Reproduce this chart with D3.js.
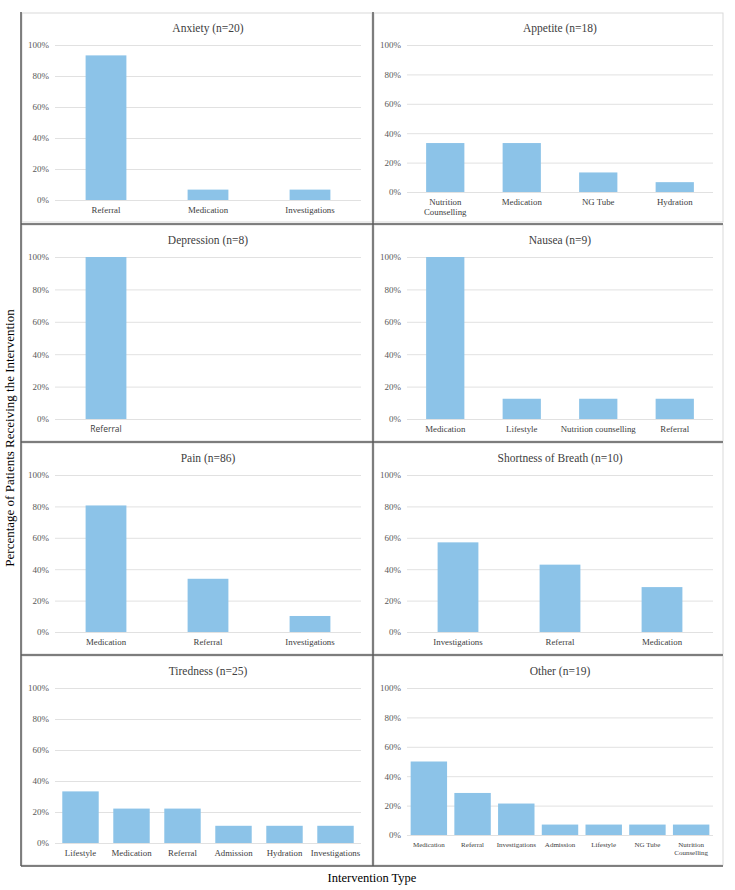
<!DOCTYPE html>
<html>
<head>
<meta charset="utf-8">
<script src="https://cdn.jsdelivr.net/npm/d3@7"></script>
<style>
  body { margin: 0; background: #fff; }
  text { font-family: "Liberation Serif", "Times New Roman", serif; }
</style>
</head>
<body>
<div id="chart"></div>
<script>
// panel titles, in reading order (left-right, top-bottom)
var titles = ["Anxiety (n=20)", "Appetite (n=18)", "Depression (n=8)", "Nausea (n=9)",
              "Pain (n=86)", "Shortness of Breath (n=10)", "Tiredness (n=25)", "Other (n=19)"];

var anxietyCats = ["Referral", "Medication", "Investigations"];
var anxietyVals = [93.3, 6.7, 6.7];
var appetiteCats = ["Nutrition\nCounselling", "Medication", "NG Tube", "Hydration"];
var appetiteVals = [33.3, 33.3, 13.3, 6.7];
var depressionCats = ["Referral"];
var depressionVals = [100];
var nauseaCats = ["Medication", "Lifestyle", "Nutrition counselling", "Referral"];
var nauseaVals = [100, 12.5, 12.5, 12.5];
var painCats = ["Medication", "Referral", "Investigations"];
var painVals = [80.6, 33.9, 10.2];
var breathCats = ["Investigations", "Referral", "Medication"];
var breathVals = [57.1, 42.9, 28.6];
var tirednessCats = ["Lifestyle", "Medication", "Referral", "Admission", "Hydration", "Investigations"];
var tirednessVals = [33.3, 22.2, 22.2, 11.1, 11.1, 11.1];
var otherCats = ["Medication", "Referral", "Investigations", "Admission", "Lifestyle", "NG Tube", "Nutrition\nCounselling"];
var otherVals = [50, 28.6, 21.4, 7.1, 7.1, 7.1, 7.1];

var yTicks = [0, 20, 40, 60, 80, 100];

var allCats = [anxietyCats, appetiteCats, depressionCats, nauseaCats, painCats, breathCats, tirednessCats, otherCats];
var allVals = [anxietyVals, appetiteVals, depressionVals, nauseaVals, painVals, breathVals, tirednessVals, otherVals];

// excel-ish gap width per panel, label size, min slots
var gapWidths = [1.5, 1.0, 1.5, 1.0, 1.5, 1.5, 0.4, 0.2];
var labelSizes = [8.8, 8.8, 8.5, 8.8, 8.8, 8.8, 8.8, 7];
var minSlots = [3, 4, 3, 4, 3, 3, 6, 7];

var width = 735, height = 890;
var colX = [22, 374], colW = [350, 349];
var rowY = [13, 225, 443, 656], rowH = [209, 216, 211, 209];
var barColor = "#8cc3e8";

var svg = d3.select("#chart").append("svg")
    .attr("width", width)
    .attr("height", height);

titles.forEach(function(title, i) {
    var col = i % 2, row = Math.floor(i / 2);
    var px = colX[col], py = rowY[row], pw = colW[col], ph = rowH[row];
    var cats = allCats[i], vals = allVals[i];
    var wrapped = cats.some(function(c) { return c.indexOf("\n") >= 0; });

    var g = svg.append("g");
    g.append("rect")
        .attr("x", px).attr("y", py)
        .attr("width", pw).attr("height", ph)
        .attr("fill", "#fff")
        .attr("stroke", "#d9d9d9")
        .attr("stroke-width", 1);

    var x0 = px + 33, x1 = px + 339;
    var yt = py + 32, yb = py + ph - (wrapped ? 30 : 22);

    var slots = Math.max(cats.length, minSlots[i]);
    var x = d3.scaleBand().domain(d3.range(slots)).range([x0, x1]).padding(0);
    var y = d3.scaleLinear().domain([0, 100]).range([yb, yt]);

    g.append("text")
        .attr("x", (x0 + x1) / 2)
        .attr("y", yt - 13)
        .attr("text-anchor", "middle")
        .attr("font-size", "11.5px")
        .attr("fill", "#404040")
        .text(title);

    var yAxis = g.append("g")
        .attr("transform", "translate(" + x0 + ",0)")
        .call(d3.axisLeft(y)
            .tickValues(yTicks)
            .tickFormat(function(d) { return d + "%"; })
            .tickSize(-(x1 - x0))
            .tickPadding(6));
    yAxis.select(".domain").remove();
    yAxis.selectAll("line").attr("stroke", "#d9d9d9").attr("stroke-width", 0.8);
    yAxis.selectAll("text")
        .attr("font-size", "9px")
        .attr("fill", "#595959")
        .style("font-family", '"Liberation Serif", serif');

    var bw = x.bandwidth() / (1 + gapWidths[i]);
    g.selectAll(".bar")
        .data(vals)
        .enter().append("rect")
        .attr("class", "bar")
        .attr("x", function(d, j) { return x(j) + (x.bandwidth() - bw) / 2; })
        .attr("y", function(d) { return y(d); })
        .attr("width", bw)
        .attr("height", function(d) { return y(0) - y(d); })
        .attr("fill", barColor);

    var xAxis = g.append("g")
        .attr("transform", "translate(0," + yb + ")")
        .call(d3.axisBottom(x)
            .tickValues(d3.range(cats.length))
            .tickSize(0)
            .tickPadding(7)
            .tickFormat(function(j) { return cats[j]; }));
    xAxis.select(".domain").remove();
    xAxis.selectAll("text")
        .attr("font-size", labelSizes[i] + "px")
        .attr("fill", "#404040")
        .style("font-family", i === 2 ? '"Open Sans", "Liberation Sans", sans-serif' : '"Liberation Serif", serif')
        .each(function(j) {
            var lines = cats[j].split("\n");
            if (lines.length > 1) {
                var t = d3.select(this).text(null);
                lines.forEach(function(l, k) {
                    t.append("tspan").attr("x", 0).attr("dy", k === 0 ? "0.71em" : "1.15em").text(l);
                });
                t.attr("dy", null);
            }
        });
});

// dark frame lines
var frame = svg.append("g").attr("stroke", "#595959").attr("stroke-width", 1.5);
frame.append("line").attr("x1", 21).attr("x2", 21).attr("y1", 12).attr("y2", 866);
frame.append("line").attr("x1", 373).attr("x2", 373).attr("y1", 12).attr("y2", 866);
[224, 442, 655, 866].forEach(function(yy) {
    frame.append("line").attr("x1", 21).attr("x2", 723).attr("y1", yy).attr("y2", yy);
});

// axis titles
svg.append("text")
    .attr("transform", "translate(11,438) rotate(-90)")
    .attr("text-anchor", "middle")
    .attr("dominant-baseline", "middle")
    .attr("font-size", "13px")
    .attr("fill", "#000")
    .text("Percentage of Patients Receiving the Intervention");

svg.append("text")
    .attr("x", 372)
    .attr("y", 882)
    .attr("text-anchor", "middle")
    .attr("font-size", "12.5px")
    .attr("fill", "#000")
    .text("Intervention Type");
</script>
</body>
</html>
